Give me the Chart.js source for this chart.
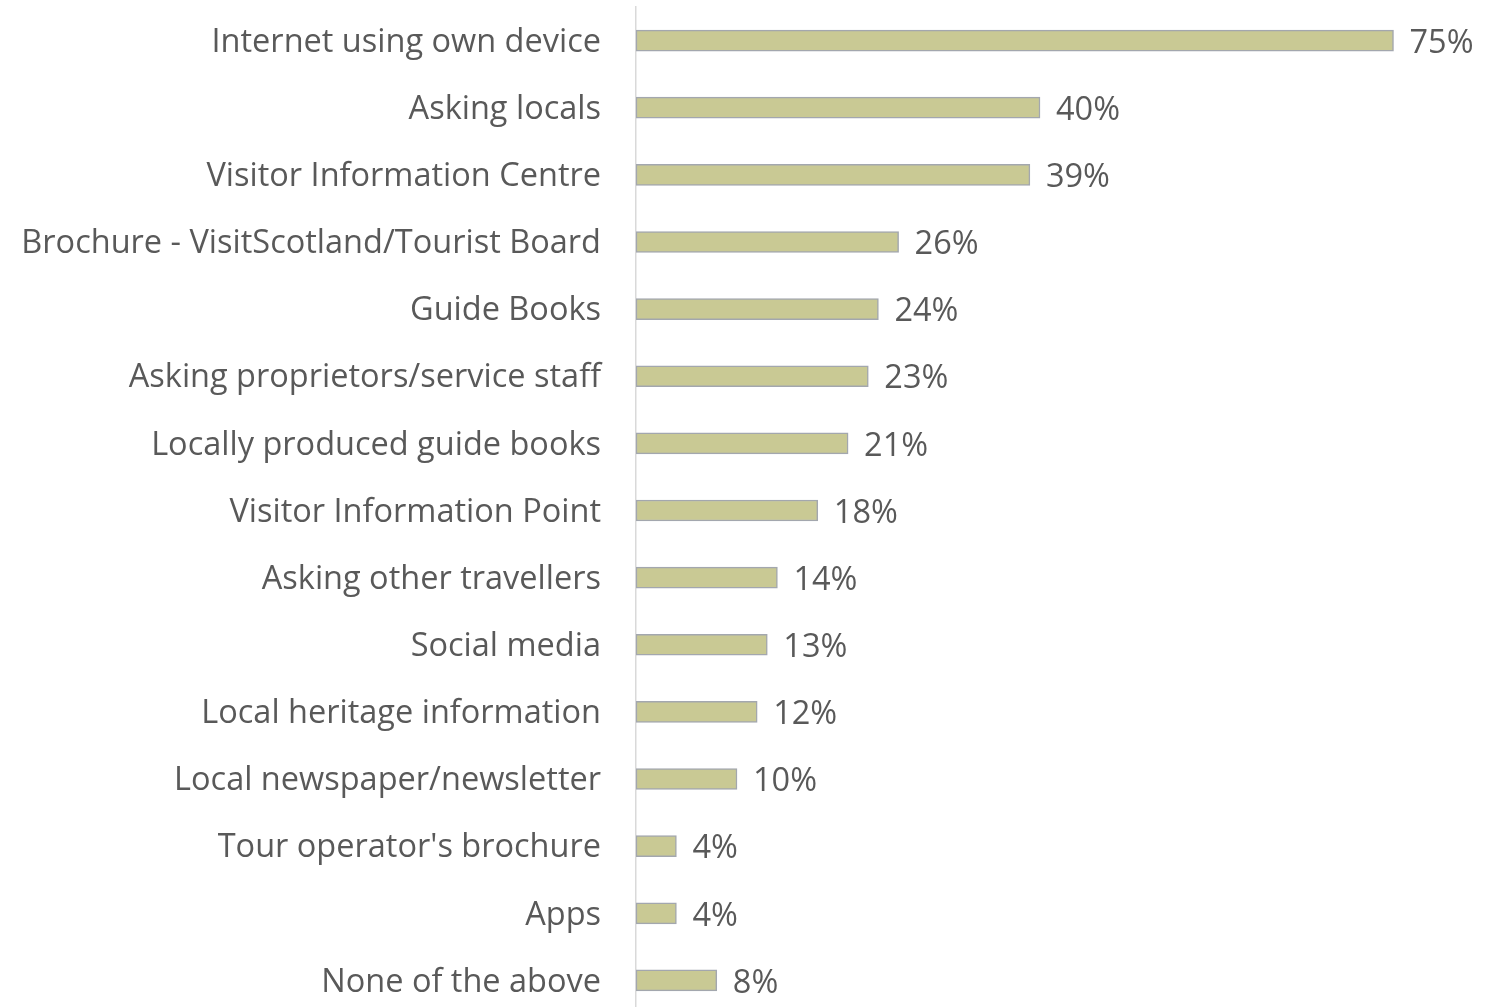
<!DOCTYPE html>
<html lang="en">
<head>
  <meta charset="UTF-8">
  <title>Information sources used</title>
  <script src="https://cdn.jsdelivr.net/npm/chart.js"></script>
  <style>
    html, body {
      margin: 0;
      padding: 0;
      background: #fff;
      overflow: hidden;
    }
    .wrap {
      position: absolute;
      left: 0;
      top: 0;
      width: 1488px;
      height: 1016px;
    }
  </style>
</head>
<body>
  <div class="wrap"><canvas id="chart"></canvas></div>

  <script>
    const categories = [
      "Internet using own device",
      "Asking locals",
      "Visitor Information Centre",
      "Brochure - VisitScotland/Tourist Board",
      "Guide Books",
      "Asking proprietors/service staff",
      "Locally produced guide books",
      "Visitor Information Point",
      "Asking other travellers",
      "Social media",
      "Local heritage information",
      "Local newspaper/newsletter",
      "Tour operator's brochure",
      "Apps",
      "None of the above"
    ];
    const percentValues = [75, 40, 39, 26, 24, 23, 21, 18, 14, 13, 12, 10, 4, 4, 8];

    const textColor = "#595959";
    const fontFamily = "'Open Sans', sans-serif";

    // percent labels at the end of each bar
    const valueLabels = {
      id: "valueLabels",
      afterDatasetsDraw(chart) {
        const ctx = chart.ctx;
        const meta = chart.getDatasetMeta(0);
        ctx.save();
        ctx.font = "32.5px " + fontFamily;
        ctx.fillStyle = textColor;
        ctx.textAlign = "left";
        ctx.textBaseline = "middle";
        meta.data.forEach((bar, i) => {
          ctx.fillText(percentValues[i] + "%", bar.x + 16, bar.y + 3);
        });
        ctx.restore();
      }
    };

    new Chart(document.getElementById("chart"), {
      type: "bar",
      data: {
        labels: categories,
        datasets: [{
          data: percentValues,
          backgroundColor: "#C9C994",
          borderColor: "#A3A7AE",
          borderWidth: 1.5,
          borderSkipped: false,
          barThickness: 21
        }]
      },
      options: {
        indexAxis: "y",
        responsive: true,
        maintainAspectRatio: false,
        animation: false,
        layout: { padding: { top: 7, right: 44, bottom: 2, left: 0 } },
        plugins: {
          legend: { display: false },
          tooltip: { enabled: false }
        },
        scales: {
          x: {
            display: false,
            min: 0,
            max: 80
          },
          y: {
            grid: { display: false, drawTicks: false },
            border: { display: true, color: "#D9D9D9", width: 1.5 },
            ticks: {
              color: textColor,
              padding: 35,
              labelOffset: 2,
              font: { family: fontFamily, size: 32.5 }
            },
            afterFit(scale) {
              scale.width = 636;
              scale.paddingTop = 0;
              scale.paddingBottom = 0;
            }
          }
        }
      },
      plugins: [valueLabels]
    });
  </script>
</body>
</html>
